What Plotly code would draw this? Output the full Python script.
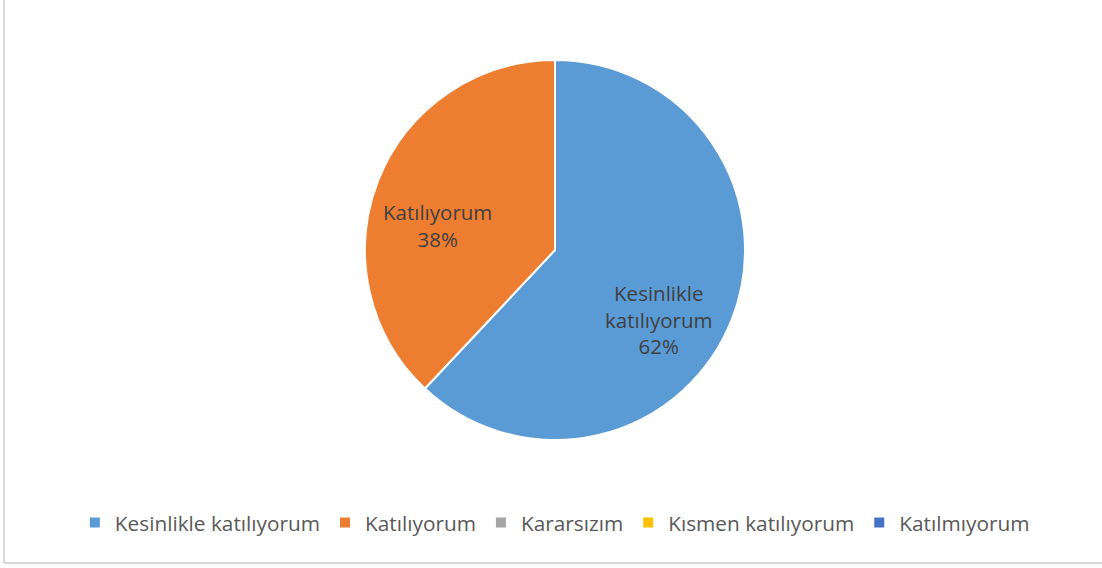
import math
import plotly.graph_objects as go

categories = ["Kesinlikle katılıyorum", "Katılıyorum", "Kararsızım", "Kısmen katılıyorum", "Katılmıyorum"]
values = [62, 38, 0, 0, 0]
colors = ["#5B9BD5", "#ED7D31", "#A5A5A5", "#FFC000", "#4472C4"]
label_lines = ["Kesinlikle<br>katılıyorum", "Katılıyorum", "", "", ""]

W, H = 1102, 568
cx, cy, r = 555, 250, 190
FONT = "Open Sans, Lato, sans-serif"

fig = go.Figure()
fig.add_trace(go.Pie(
    labels=categories,
    values=values,
    textinfo="none",
    sort=False,
    direction="clockwise",
    rotation=0,
    marker=dict(colors=colors, line=dict(color="white", width=2)),
    domain=dict(x=[(cx - r) / W, (cx + r) / W], y=[1 - (cy + r) / H, 1 - (cy - r) / H]),
    hoverinfo="label+percent",
    showlegend=True,
))

# slice labels placed along each slice's bisector (derived from the data)
label_radius = [0.66, 0.63, 0.6, 0.6, 0.6]
angle_nudge = [12, -10, 0, 0, 0]  # degrees, style tweak
total = sum(values)
annotations = []
cum = 0
for i, v in enumerate(values):
    if v <= 0:
        continue
    mid = (cum + v / 2) / total * 360 + angle_nudge[i]
    cum += v
    rad = math.radians(mid)
    px = cx + label_radius[i] * r * math.sin(rad)
    py = cy - label_radius[i] * r * math.cos(rad)
    pct = round(v / total * 100)
    annotations.append(dict(
        x=px / W, y=1 - py / H, xref="paper", yref="paper",
        text=f"{label_lines[i]}<br>{pct}%", showarrow=False,
        xanchor="center", yanchor="middle", align="center",
        font=dict(family=FONT, size=20.5, color="#404040"),
    ))

fig.update_layout(
    width=W, height=H,
    margin=dict(l=0, r=0, t=0, b=0),
    paper_bgcolor="white",
    plot_bgcolor="white",
    legend=dict(
        orientation="h",
        x=0.5035, xanchor="center",
        y=1 - 523 / H, yanchor="middle",
        font=dict(family=FONT, size=20.8, color="#595959"),
        traceorder="normal",
    ),
    annotations=annotations,
    shapes=[
        dict(type="line", xref="paper", yref="paper", x0=4 / W, x1=4 / W, y0=1 - 563 / H, y1=1.0,
             line=dict(color="#D9D9D9", width=2)),
        dict(type="line", xref="paper", yref="paper", x0=4 / W, x1=1.0, y0=1 - 563 / H, y1=1 - 563 / H,
             line=dict(color="#D9D9D9", width=2)),
    ],
)

fig.write_html(
    "out.html",
    config={"displayModeBar": False},
    post_script="document.body.style.margin='0';document.body.style.padding='0';document.body.style.overflow='hidden';",
)
